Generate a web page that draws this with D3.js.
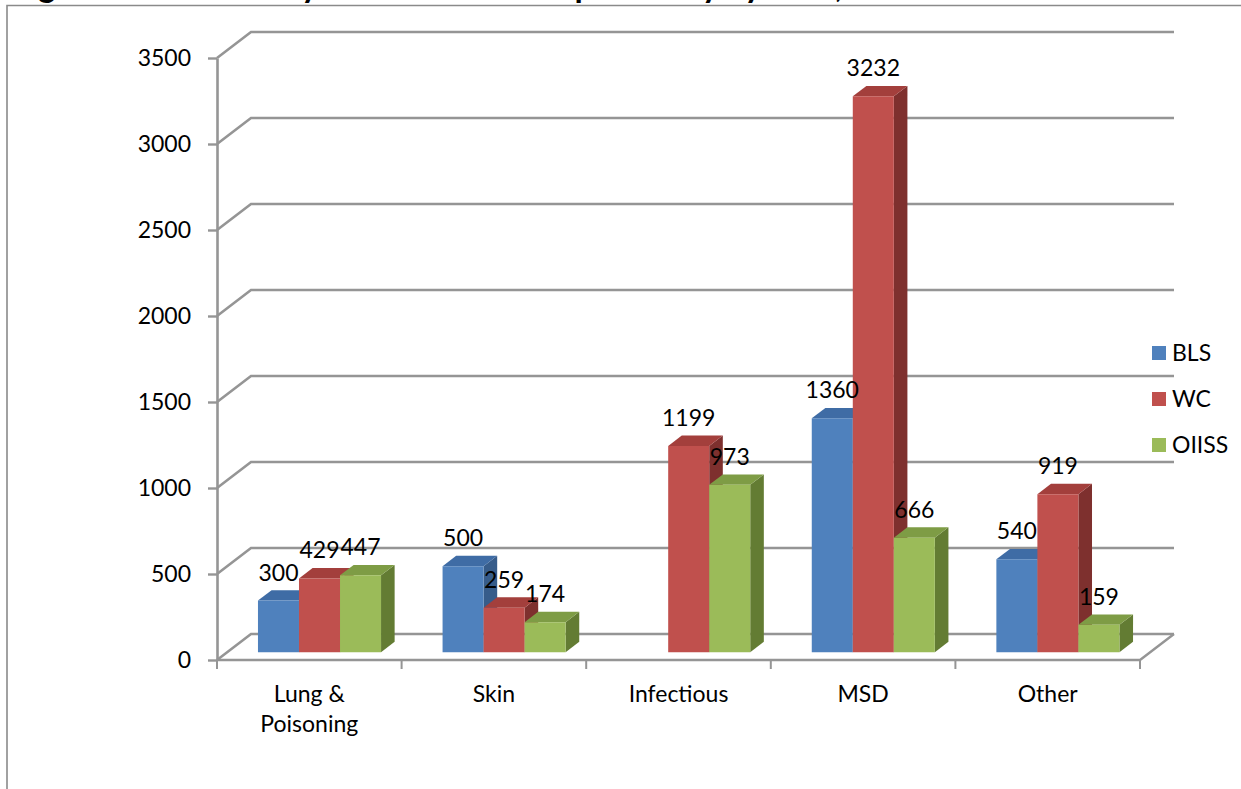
<!DOCTYPE html>
<html>
<head>
<meta charset="utf-8">
<script src="https://cdn.jsdelivr.net/npm/d3@7"></script>
<style>
  html, body { margin: 0; padding: 0; background: #fff; overflow: hidden; }
  text { font-family: Lato, "Noto Sans", sans-serif; fill: #000; }
</style>
</head>
<body>
<svg id="chart" width="1241" height="789"></svg>
<script>
// Illness counts by category, one array per reporting system
const categories = ["Lung & Poisoning", "Skin", "Infectious", "MSD", "Other"];
const categoryLines = [["Lung &", "Poisoning"], ["Skin"], ["Infectious"], ["MSD"], ["Other"]];
const series = ["BLS", "WC", "OIISS"];
const blsValues = [300, 500, null, 1360, 540];
const wcValues = [429, 259, 1199, 3232, 919];
const oiissValues = [447, 174, 973, 666, 159];
const yTicks = [0, 500, 1000, 1500, 2000, 2500, 3000, 3500];
const titleText = "Figure 1. Illnesses by Disease Class Reported by System, 2008";

const seriesValues = [blsValues, wcValues, oiissValues];
const palette = {
  BLS:   { front: "#4F81BD", top: "#3F6CA5", side: "#375C8A" },
  WC:    { front: "#C0504D", top: "#A33F3C", side: "#7E302E" },
  OIISS: { front: "#9BBB59", top: "#7E9C45", side: "#637C33" }
};
const FONT = "23px";

const svg = d3.select("#chart");

// Chart frame
svg.append("path")
  .attr("d", "M7,789 L7,5.5 L1241,5.5")
  .attr("fill", "none").attr("stroke", "#8a8a8a").attr("stroke-width", 1.6);

// Title above the frame; its run is fitted between the first "g" and the comma
const title = svg.append("text")
  .attr("x", 8).attr("y", -3)
  .style("font-weight", "bold").style("font-size", "36px")
  .text(titleText);
{
  const node = title.node();
  const gIdx = titleText.indexOf("g");
  const cIdx = titleText.indexOf(",");
  const g0 = node.getStartPositionOfChar(gIdx).x - 8;
  const c0 = node.getStartPositionOfChar(cIdx).x - 8;
  const total = node.getComputedTextLength();
  const k = (835 - 38) / (c0 - g0);
  title.attr("x", 38 - k * g0)
    .attr("textLength", total * k)
    .attr("lengthAdjust", "spacingAndGlyphs");
}

// Scales on the front plane
const x0 = d3.scaleBand().domain(categories).range([217, 1140]);
const x1 = d3.scaleBand().domain(series).range([0, x0.bandwidth()])
  .paddingInner(0).paddingOuter(0.75);
const y = d3.scaleLinear().domain([0, 3500]).range([660, 58]);

// Oblique depth projection
const DX = 34, DY = -26;
const P = (x, v, z) => [x + z * DX, y(v) + z * DY];
const poly = pts => "M" + pts.map(p => p.join(",")).join("L") + "Z";
const line = pts => "M" + pts.map(p => p.join(",")).join("L");

const gridColor = "#959595";
const xs = x0.range()[0], xe = x0.range()[1];

// Back-wall gridlines with left-wall diagonals
svg.append("g").selectAll("path").data(yTicks).join("path")
  .attr("d", t => line([P(xs, t, 0), P(xs, t, 1), P(xe, t, 1)]))
  .attr("fill", "none").attr("stroke", gridColor).attr("stroke-width", 2.6);

// Floor front edge and right edge
svg.append("path")
  .attr("d", line([P(xs, 0, 0), P(xe, 0, 0), P(xe, 0, 1)]))
  .attr("fill", "none").attr("stroke", gridColor).attr("stroke-width", 2.4);

// Category tick marks along the floor edge
const boundaries = categories.map(c => x0(c)).concat([xe]);
svg.append("g").selectAll("line").data(boundaries).join("line")
  .attr("x1", d => d).attr("x2", d => d)
  .attr("y1", y(0)).attr("y2", y(0) + 9)
  .attr("stroke", gridColor).attr("stroke-width", 2);

// Value axis
const yAxis = svg.append("g")
  .attr("transform", `translate(${xs},0)`)
  .call(d3.axisLeft(y).tickValues(yTicks).tickFormat(d3.format("d"))
    .tickSize(9).tickSizeOuter(0).tickPadding(17));
yAxis.select(".domain").attr("stroke", gridColor).attr("stroke-width", 2.6);
yAxis.selectAll(".tick line").attr("stroke", gridColor).attr("stroke-width", 2.4);
yAxis.selectAll(".tick text")
  .style("font-size", FONT).style("font-family", "Lato, 'Noto Sans', sans-serif")
  .attr("fill", "#000");

// Category labels
const catLabels = svg.append("g").selectAll("text").data(categories).join("text")
  .attr("text-anchor", "middle")
  .style("font-size", FONT)
  .attr("x", c => x0(c) + x0.bandwidth() / 2)
  .attr("y", 702);
catLabels.each(function (c, i) {
  d3.select(this).selectAll("tspan").data(categoryLines[i]).join("tspan")
    .attr("x", x0(c) + x0.bandwidth() / 2)
    .attr("dy", (d, j) => j === 0 ? 0 : 30)
    .text(d => d);
});

// 3D columns
const z0 = 0.3, z1 = 0.7;
const bars = [];
categories.forEach((c, ci) => {
  series.forEach((s, si) => {
    const v = seriesValues[si][ci];
    if (v == null) return;
    bars.push({ c, s, v });
  });
});

const barG = svg.append("g");
bars.forEach(b => {
  const xl = x0(b.c) + x1(b.s);
  const xr = xl + x1.bandwidth();
  const col = palette[b.s];
  const g = barG.append("g");
  g.append("path").attr("d", poly([P(xr, 0, z0), P(xr, 0, z1), P(xr, b.v, z1), P(xr, b.v, z0)]))
    .attr("fill", col.side);
  g.append("path").attr("d", poly([P(xl, b.v, z0), P(xr, b.v, z0), P(xr, b.v, z1), P(xl, b.v, z1)]))
    .attr("fill", col.top);
  g.append("path").attr("d", poly([P(xl, 0, z0), P(xr, 0, z0), P(xr, b.v, z0), P(xl, b.v, z0)]))
    .attr("fill", col.front);
});

// Data labels
svg.append("g").selectAll("text").data(bars).join("text")
  .attr("text-anchor", "middle")
  .style("font-size", FONT)
  .attr("x", b => P(x0(b.c) + x1(b.s) + x1.bandwidth() / 2, b.v, z0)[0])
  .attr("y", b => P(0, b.v, z0)[1] - 20)
  .text(b => b.v);

// Legend
const legend = svg.append("g").selectAll("g").data(series).join("g")
  .attr("transform", (s, i) => `translate(1152, ${353 + i * 46})`);
legend.append("rect")
  .attr("x", 0).attr("y", -7).attr("width", 14).attr("height", 14)
  .attr("fill", s => palette[s].front);
legend.append("text")
  .attr("x", 20).attr("y", 0).attr("dy", "0.36em")
  .style("font-size", FONT)
  .text(s => s);
</script>
</body>
</html>
